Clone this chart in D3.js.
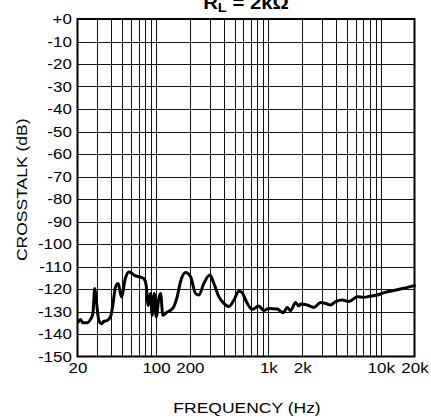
<!DOCTYPE html>
<html>
<head>
<meta charset="utf-8">
<script src="https://cdn.jsdelivr.net/npm/d3@7"></script>
<style>
  html, body { margin: 0; padding: 0; background: #fff; }
  svg { display: block; }
  text { font-family: "Liberation Sans", Arial, sans-serif; fill: #000; }
</style>
</head>
<body>
<svg id="chart" width="431" height="419"></svg>
<script>
// Crosstalk vs. frequency, R_L = 2kΩ
const freqHz = [20.3, 21.3, 22.3, 24.4, 26.1, 27.4, 28.5, 29.5, 31.0, 32.7, 34.3, 36.8, 39.3, 41.2,
  43.6, 46.1, 49.2, 53.5, 57.3, 61.4, 65.7, 72.8, 77.9, 81.8, 85.3, 89.3, 92.5, 96.4, 100.4, 105.9,
  109.7, 115.1, 125.8, 134.6, 144.1, 154.5, 165.3, 183.2, 202.8, 224.8, 240.6, 266.6, 301.5, 327.4,
  362.6, 401.6, 444.9, 493, 546, 580, 649, 719, 822, 912, 1010, 1200, 1359, 1473, 1577, 1747, 1871,
  1936, 2219, 2541, 2917, 3230, 3580, 3965, 4550, 5215, 6195, 7085, 8130, 9330, 10690, 13130,
  16110, 20000];
const crosstalkDb = [-134.7, -133.5, -135, -135, -133.5, -131, -119.8, -125.8, -134, -135.4, -134.4,
  -134, -132.4, -127.3, -119.1, -117.6, -123.5, -115, -112.4, -113.2, -114.2, -114.7, -115.4, -118.4,
  -127.3, -122, -131.7, -122, -132.4, -124.3, -122, -131.7, -130.2, -129.5, -127.8, -123.4, -116.7,
  -112.7, -114.5, -122, -122.7, -117.5, -113.8, -117.5, -123.4, -126.4, -127.8, -125, -121, -121.5,
  -126.4, -129, -127.6, -129.6, -128.7, -128.9, -130.5, -128.2, -129.6, -126, -127.6, -126.7, -127.1,
  -128.2, -126, -126.4, -127.1, -125.6, -124.9, -125.6, -123.4, -123.7, -123.1, -122.7, -121.6,
  -120.7, -119.7, -118.5];

const yTicks = [0, -10, -20, -30, -40, -50, -60, -70, -80, -90, -100, -110, -120, -130, -140, -150];
const xGrid = [30, 40, 50, 60, 70, 80, 90, 100, 200, 300, 400, 500, 600, 700, 800, 900, 1000,
  2000, 3000, 4000, 5000, 6000, 7000, 8000, 9000, 10000];
const xTickValues = [20, 100, 200, 1000, 2000, 10000, 20000];
const xTickLabels = ["20", "100", "200", "1k", "2k", "10k", "20k"];

const svg = d3.select("#chart");
const plotLeft = 77.5, plotRight = 414.5, plotTop = 19, plotBottom = 356.5;
const FONT = "'Liberation Sans', Arial, sans-serif";
const WIDEN = "scale(1.13,1)";   // slightly wide lettering

const x = d3.scaleLog().domain([20, 20000]).range([plotLeft, plotRight]);
const y = d3.scaleLinear().domain([0, -150]).range([plotTop, plotBottom]);

// grid
const grid = svg.append("g").attr("stroke", "#111").attr("stroke-width", 1).attr("shape-rendering", "crispEdges");
grid.selectAll("line.v").data(xGrid).join("line")
  .attr("x1", d => Math.round(x(d)) + 0.5).attr("x2", d => Math.round(x(d)) + 0.5)
  .attr("y1", plotTop).attr("y2", plotBottom);
grid.selectAll("line.h").data(yTicks.slice(1, -1)).join("line")
  .attr("y1", d => Math.round(y(d)) + 0.5).attr("y2", d => Math.round(y(d)) + 0.5)
  .attr("x1", plotLeft).attr("x2", plotRight);

// frame
svg.append("rect")
  .attr("x", plotLeft).attr("y", plotTop)
  .attr("width", plotRight - plotLeft).attr("height", plotBottom - plotTop)
  .attr("fill", "none").attr("stroke", "#000").attr("stroke-width", 2);

// y axis labels
const yAxis = d3.axisLeft(y).tickValues(yTicks).tickSize(0).tickPadding(5)
  .tickFormat(d => d === 0 ? "+0" : String(d));
const gy = svg.append("g").attr("transform", `translate(${plotLeft},0)`).call(yAxis);
gy.select(".domain").remove();
gy.selectAll("text").style("font-size", "15px").style("font-family", FONT)
  .attr("fill", "#000").attr("transform", WIDEN);

// x axis labels
const xAxis = d3.axisBottom(x).tickValues(xTickValues).tickSize(0).tickPadding(6)
  .tickFormat((d, i) => xTickLabels[i]);
const gx = svg.append("g").attr("transform", `translate(0,${plotBottom})`).call(xAxis);
gx.select(".domain").remove();
gx.selectAll("text").style("font-size", "15px").style("font-family", FONT)
  .attr("fill", "#000").attr("transform", WIDEN);

// axis titles
svg.append("text")
  .attr("transform", `translate(${(plotLeft + plotRight) / 2 + 1},413) ${WIDEN}`)
  .attr("text-anchor", "middle").style("font-size", "15.5px")
  .text("FREQUENCY (Hz)");
svg.append("text")
  .attr("transform", `translate(26.5,${(plotTop + plotBottom) / 2 + 2}) rotate(-90) ${WIDEN}`)
  .attr("text-anchor", "middle").style("font-size", "15.5px")
  .text("CROSSTALK (dB)");

// title
const title = svg.append("text")
  .attr("transform", `translate(${(plotLeft + plotRight) / 2},9) ${WIDEN}`)
  .attr("text-anchor", "middle").style("font-size", "18px").style("font-weight", "bold");
title.append("tspan").text("R");
title.append("tspan").attr("dy", 2.5).style("font-size", "13px").text("L");
title.append("tspan").attr("dy", -2.5).text(" = 2kΩ");

// crosstalk curve
const pts = freqHz.map((f, i) => [f, crosstalkDb[i]]);
const line = d3.line().x(d => x(d[0])).y(d => y(d[1])).curve(d3.curveMonotoneX);
svg.append("path")
  .datum(pts)
  .attr("d", line)
  .attr("fill", "none").attr("stroke", "#000").attr("stroke-width", 3)
  .attr("stroke-linejoin", "round").attr("stroke-linecap", "round");
</script>
</body>
</html>
